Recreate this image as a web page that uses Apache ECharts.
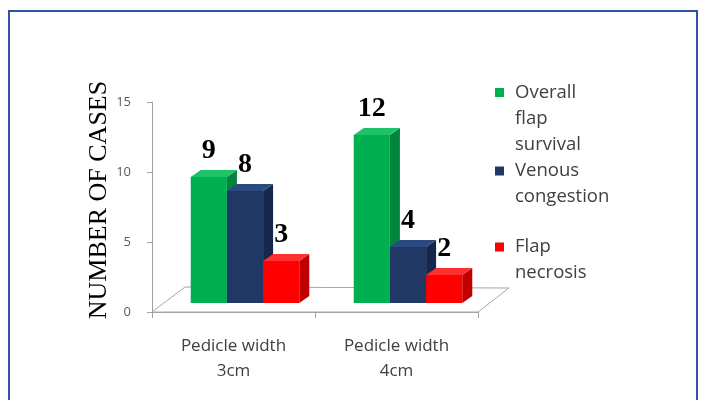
<!DOCTYPE html>
<html>
<head>
<meta charset="utf-8">
<script src="https://cdn.jsdelivr.net/npm/echarts@6/dist/echarts.min.js"></script>
<style>
  html, body { margin: 0; padding: 0; background: #fff; }
  #chart { width: 704px; height: 400px; }
</style>
</head>
<body>
<div id="chart"></div>
<script>
// Categories along the x axis
const categories = ['Pedicle width\n3cm', 'Pedicle width\n4cm'];

// Series names (legend) and their wrapped legend text
const seriesNames = ['Overall flap survival', 'Venous congestion', 'Flap necrosis'];
const legendLines = [['Overall', 'flap', 'survival'], ['Venous', 'congestion'], ['Flap', 'necrosis']];

// Number of cases per category
const overallSurvival = [9, 12];
const venousCongestion = [8, 4];
const flapNecrosis = [3, 2];

// Y axis ticks
const yTicks = [0, 5, 10, 15];

const seriesValues = [overallSurvival, venousCongestion, flapNecrosis];

// Face colours for the pseudo-3D bars: [front, top, side]
const palettes = [
  ['#00b050', '#1fc266', '#00843c'],
  ['#1f3864', '#2b4a80', '#15284a'],
  ['#ff0000', '#ff3030', '#c00000']
];

const FONT_SANS = '"Open Sans", "Noto Sans", sans-serif';
const FONT_SERIF = '"Liberation Serif", "DejaVu Serif", serif';

// floor depth (pixel offset of the back edge) and bar depth
const FLOOR_DX = 32, FLOOR_DY = -25;
const BAR_SHIFT_X = 11.5, BAR_SHIFT_Y = -9;
const BAR_DX = 10, BAR_DY = -7;

function barRenderer(sIdx) {
  const pal = palettes[sIdx];
  return function (params, api) {
    const cat = api.value(0);
    const val = api.value(1);
    const base = api.coord([cat, 0]);
    const top = api.coord([cat, val]);
    const band = api.size([1, 0])[0];
    const w = band * 0.222;
    const x0 = base[0] + BAR_SHIFT_X + (sIdx - 1.5) * w;
    const x1 = x0 + w;
    const yb = base[1] + BAR_SHIFT_Y;
    const yt = top[1] + BAR_SHIFT_Y;
    return {
      type: 'group',
      children: [
        {
          type: 'polygon',
          shape: { points: [[x1, yt], [x1 + BAR_DX, yt + BAR_DY], [x1 + BAR_DX, yb + BAR_DY], [x1, yb]] },
          style: { fill: pal[2] }
        },
        {
          type: 'polygon',
          shape: { points: [[x0, yt], [x1, yt], [x1 + BAR_DX, yt + BAR_DY], [x0 + BAR_DX, yt + BAR_DY]] },
          style: { fill: pal[1] }
        },
        {
          type: 'rect',
          shape: { x: x0, y: yt, width: w, height: yb - yt },
          style: { fill: pal[0] }
        },
        {
          type: 'text',
          z2: 50,
          style: {
            text: String(val),
            x: x0 + w / 2,
            y: yt - 26,
            align: 'center',
            verticalAlign: 'middle',
            font: 'bold 28px ' + FONT_SERIF,
            fill: '#000'
          }
        }
      ]
    };
  };
}

// Floor plane under the bars, derived from the grid rectangle
function floorRenderer(params, api) {
  const cs = params.coordSys;
  const xl = cs.x, xr = cs.x + cs.width, yf = cs.y + cs.height;
  return {
    type: 'polygon',
    shape: {
      points: [[xl, yf], [xr, yf], [xr + FLOOR_DX - 1, yf + FLOOR_DY + 1], [xl + FLOOR_DX + 1, yf + FLOOR_DY]]
    },
    style: { fill: '#ffffff', stroke: '#a6a6a6', lineWidth: 1 }
  };
}

// Legend text: leading blank lines keep the marker level with the first line
function legendLabel(i) {
  const lines = legendLines[i];
  return '\n'.repeat(lines.length - 1) + lines.join('\n');
}

const legendTops = [27.5, 132, 208];

const option = {
  animation: false,
  backgroundColor: '#ffffff',
  color: palettes.map(p => p[0]),
  graphic: [
    {
      type: 'rect',
      shape: { x: 9, y: 11, width: 688, height: 400 },
      style: { fill: 'none', stroke: '#2f54a3', lineWidth: 2 },
      silent: true
    }
  ],
  grid: { left: 152, right: 226, top: 102, bottom: 88 },
  legend: seriesNames.map((name, i) => ({
    data: [name],
    orient: 'vertical',
    left: 495,
    top: legendTops[i],
    padding: 0,
    itemGap: 0,
    itemWidth: 9,
    itemHeight: 9,
    icon: 'rect',
    selectedMode: false,
    formatter: () => legendLabel(i),
    textStyle: { fontFamily: FONT_SANS, fontSize: 18.5, lineHeight: 26, color: '#404040', padding: [0, 0, 0, 6] }
  })),
  xAxis: {
    type: 'category',
    data: categories,
    axisLine: { lineStyle: { color: '#a0a0a0', width: 1 } },
    axisTick: { show: true, length: 6, lineStyle: { color: '#a0a0a0' } },
    axisLabel: { fontFamily: FONT_SANS, fontSize: 17, lineHeight: 25, color: '#404040', margin: 22, letterSpacing: 0.8 },
    splitLine: { show: false }
  },
  yAxis: {
    type: 'value',
    min: yTicks[0],
    max: yTicks[yTicks.length - 1],
    interval: yTicks[1] - yTicks[0],
    name: 'NUMBER OF CASES',
    nameLocation: 'middle',
    nameGap: 31,
    nameTextStyle: { fontFamily: FONT_SERIF, fontSize: 26, color: '#000', padding: [0, 0, 0, 14] },
    axisLine: { show: true, lineStyle: { color: '#a0a0a0', width: 1 } },
    axisTick: { show: true, length: 5, lineStyle: { color: '#a0a0a0' } },
    axisLabel: { fontFamily: FONT_SANS, fontSize: 13, color: '#595959', margin: 21 },
    splitLine: { show: false }
  },
  series: [
    {
      type: 'custom',
      name: '__floor',
      silent: true,
      z: 1,
      data: [[0, 0]],
      renderItem: floorRenderer
    }
  ].concat(seriesValues.map((vals, i) => ({
    type: 'custom',
    name: seriesNames[i],
    z: 2 + i,
    itemStyle: { color: palettes[i][0] },
    encode: { x: 0, y: 1 },
    data: vals.map((v, c) => [c, v]),
    renderItem: barRenderer(i)
  })))
};

const chart = echarts.init(document.getElementById('chart'), null, { renderer: 'canvas' });
chart.setOption(option);
</script>
</body>
</html>
